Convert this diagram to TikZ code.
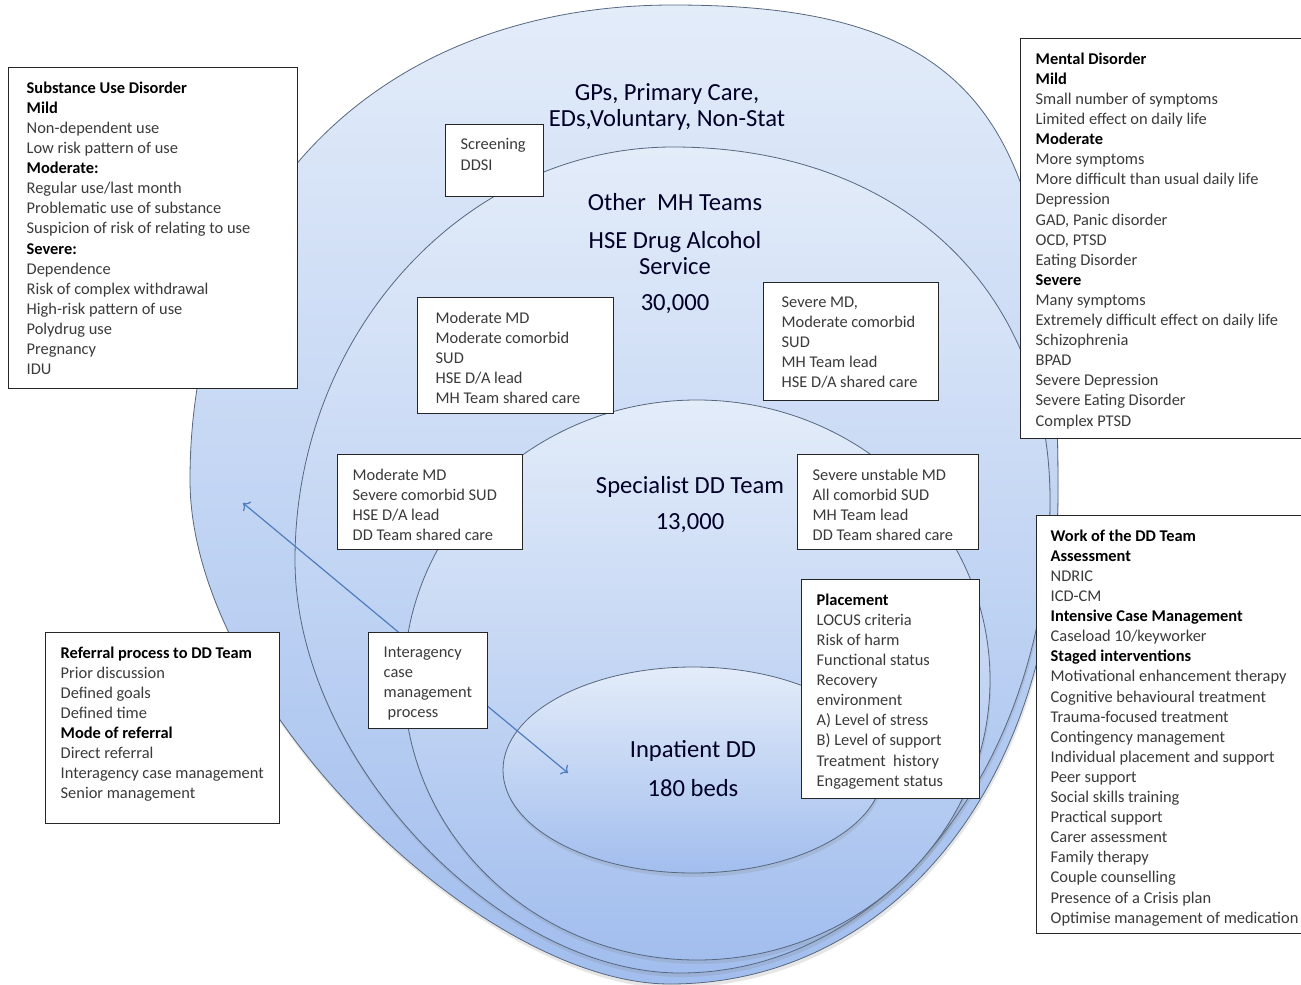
\documentclass[tikz,border=0pt]{standalone}
\usepackage{fontspec}
\setmainfont{Carlito}
\usetikzlibrary{arrows.meta,shadows}

\definecolor{zonetop}{HTML}{E3ECF9}
\definecolor{zonebot}{HTML}{A2BEEE}
\definecolor{zoneline}{HTML}{56677F}
\definecolor{bodytext}{HTML}{3A3A3A}
\definecolor{linkblue}{HTML}{4E7DBE}

\newcommand{\boxfont}{\fontsize{8.2}{10.05}\selectfont}
\newcommand{\zonefont}{\fontsize{12.3}{13.2}\selectfont}
\newcommand{\hd}[1]{\textbf{\color{black}#1}}
\newcommand{\panelbody}[3]{\parbox[c][#2][t]{#1}{\raggedright\vspace*{2.5pt}#3}}

\tikzset{
  zone/.style={draw=zoneline, line width=0.4pt, top color=zonetop, bottom color=zonebot,
    drop shadow={shadow xshift=0.5pt, shadow yshift=-2pt, opacity=0.2}},
  panel/.style={draw=black!85, line width=0.7pt, fill=white, anchor=north west,
    inner xsep=7.5pt, inner ysep=4.5pt, font=\boxfont, text=bodytext},
  zonelabel/.style={font=\zonefont, text=black!85!blue, align=center},
  linkarrow/.style={<->, draw=linkblue, line width=0.6pt}
}

\begin{document}
\begin{tikzpicture}[x=0.5pt, y=-0.5pt]
\useasboundingbox (0,0) rectangle (1301,985);

% Nested care levels
\draw[zone] (190,480) .. controls (190,195) and (383,5) .. (673,5)
  .. controls (980,5) and (1058,120) .. (1058,490)
  .. controls (1058,786) and (890,984) .. (670,984)
  .. controls (480,984) and (190,700) .. (190,480) -- cycle;
\draw[zone] (295,560) .. controls (295,333) and (465,147) .. (673,147)
  .. controls (899,147) and (1050,288) .. (1050,500)
  .. controls (1050,760) and (888,973) .. (680,973)
  .. controls (500,973) and (295,760) .. (295,560) -- cycle;
\draw[zone] (697,680) ellipse [x radius=293, y radius=280];
\draw[zone] (693,770) ellipse [x radius=190, y radius=103];

% Referral link
\coordinate (outerpt) at (243,503);
\coordinate (innerpt) at (568,773);
\draw[linkarrow] (outerpt) -- (innerpt);

% Zone labels
\node[zonelabel] (gps) at (667,107) {GPs, Primary Care,\\[-0.5pt]EDs,Voluntary, Non-Stat};
\node[zonelabel] (othermh) at (675,202) {Other\ \ MH Teams};
\node[zonelabel] (hse) at (675,253) {HSE Drug Alcohol\\Service};
\node[zonelabel] (mhcount) at (675,304) {30,000};
\node[zonelabel] (specialist) at (690,487) {Specialist DD Team};
\node[zonelabel] (ddcount) at (690,523) {13,000};
\node[zonelabel] (inpatient) at (693,751) {Inpatient DD};
\node[zonelabel] (beds) at (693,788) {180 beds};

% Side panels
\node[panel, inner xsep=9pt] (sud) at (8,67) {\panelbody{126.5pt}{151.5pt}{%
  \hd{Substance Use Disorder}\\ \hd{Mild}\\ Non-dependent use\\ Low risk pattern of use\\
  \hd{Moderate:}\\ Regular use/last month\\ Problematic use of substance\\
  Suspicion of risk of relating to use\\ \hd{Severe:}\\ Dependence\\
  Risk of complex withdrawal\\ High-risk pattern of use\\ Polydrug use\\ Pregnancy\\ IDU}};

\node[panel] (mental) at (1020,38) {\panelbody{125.5pt}{191pt}{%
  \hd{Mental Disorder}\\ \hd{Mild}\\ Small number of symptoms\\ Limited effect on daily life\\
  \hd{Moderate}\\ More symptoms\\ More difficult than usual daily life\\ Depression\\
  GAD, Panic disorder\\ OCD, PTSD\\ Eating Disorder\\ \hd{Severe}\\ Many symptoms\\
  Extremely difficult effect on daily life\\ Schizophrenia\\ BPAD\\ Severe Depression\\
  Severe Eating Disorder\\ Complex PTSD}};

\node[panel, inner xsep=7pt] (work) at (1036,515) {\panelbody{130pt}{200pt}{%
  \hd{Work of the DD Team}\\ \hd{Assessment}\\ NDRIC\\ ICD-CM\\
  \hd{Intensive Case Management}\\ Caseload 10/keyworker\\ \hd{Staged interventions}\\
  Motivational enhancement therapy\\ Cognitive behavioural treatment\\
  Trauma-focused treatment\\ Contingency management\\ Individual placement and support\\
  Peer support\\ Social skills training\\ Practical support\\ Carer assessment\\
  Family therapy\\ Couple counselling\\ Presence of a Crisis plan\\
  Optimise management of medication}};

\node[panel] (referral) at (45,632) {\panelbody{102pt}{86.5pt}{%
  \hd{Referral process to DD Team}\\ Prior discussion\\ Defined goals\\ Defined time\\
  \hd{Mode of referral}\\ Direct referral\\ Interagency case management\\ Senior management}};

% Boxes inside the zones
\node[panel] (screening) at (445,124) {\panelbody{34pt}{27pt}{Screening\\ DDSI}};

\node[panel, inner xsep=9pt] (mhshared) at (417,297) {\panelbody{80pt}{49pt}{%
  Moderate MD\\ Moderate comorbid\\ SUD\\ HSE D/A lead\\ MH Team shared care}};

\node[panel, inner xsep=9pt] (hseshared) at (763,282) {\panelbody{69.5pt}{50pt}{%
  Severe MD,\\ Moderate comorbid\\ SUD\\ MH Team lead\\ HSE D/A shared care}};

\node[panel] (ddshared) at (337,454) {\panelbody{77.5pt}{38.5pt}{%
  Moderate MD\\ Severe comorbid SUD\\ HSE D/A lead\\ DD Team shared care}};

\node[panel] (unstable) at (797,454) {\panelbody{75.5pt}{38.5pt}{%
  Severe unstable MD\\ All comorbid SUD\\ MH Team lead\\ DD Team shared care}};

\node[panel] (interagency) at (368,632) {\panelbody{44.5pt}{39pt}{%
  Interagency\\ case\\ management\\ \hspace*{2pt}process}};

\node[panel] (placement) at (801,579) {\panelbody{74pt}{100.5pt}{%
  \hd{Placement}\\ LOCUS criteria\\ Risk of harm\\ Functional status\\ Recovery\\
  environment\\ A) Level of stress\\ B) Level of support\\ Treatment\ \ history\\
  Engagement status}};

\end{tikzpicture}
\end{document}
